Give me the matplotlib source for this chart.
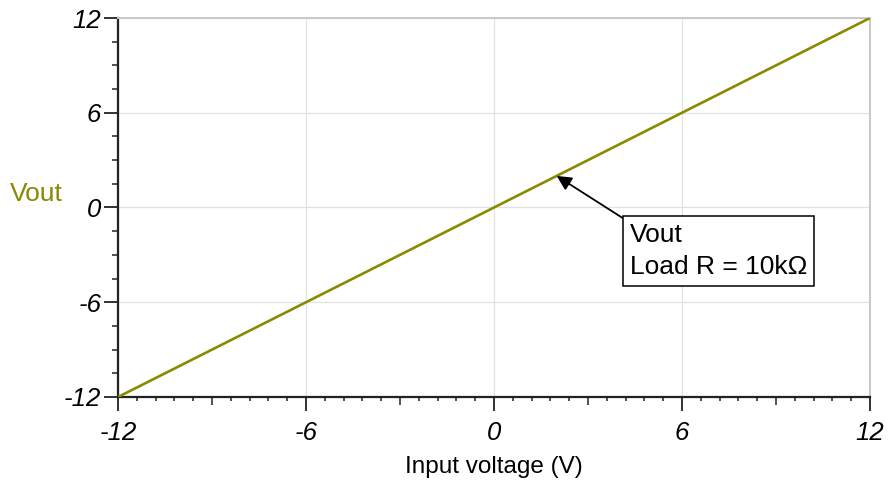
import matplotlib
matplotlib.use("Agg")
import matplotlib.pyplot as plt
from matplotlib.ticker import MultipleLocator, FixedLocator

# data
vin = [-12, 0, 12]
vout = [-12, 0, 12]
xticks = [-12, -6, 0, 6, 12]
yticks = [-12, -6, 0, 6, 12]
tick_labels = ["-12", "-6", "0", "6", "12"]
ann_point = (2, 2)
ann_text = "Vout\nLoad R = 10k\u03a9"

olive = "#8a8a00"
plt.rcParams['font.family'] = ['Liberation Sans', 'DejaVu Sans']

fig = plt.figure(figsize=(8.88, 4.86), dpi=100)
ax = fig.add_axes([118/888, 1-397/486, (870-118)/888, (397-18)/486])

ax.plot(vin, vout, color=olive, lw=1.9, solid_capstyle='butt', zorder=3)

ax.set_xlim(-12, 12)
ax.set_ylim(-12, 12)
ax.xaxis.set_major_locator(FixedLocator(xticks))
ax.yaxis.set_major_locator(FixedLocator(yticks))
ax.xaxis.set_minor_locator(MultipleLocator(0.6))
ax.yaxis.set_minor_locator(MultipleLocator(1.5))
ax.set_xticklabels(tick_labels, fontsize=18.5, style='italic')
ax.set_yticklabels(tick_labels, fontsize=18.5, style='italic')

ax.grid(True, which='major', color='#e2e2e2', lw=0.9, zorder=0)
ax.tick_params(which='major', direction='out', length=10, width=1.3, color='#222222')
ax.tick_params(axis='x', which='major', pad=7)
ax.tick_params(axis='y', which='major', pad=2)
ax.tick_params(axis='x', which='minor', direction='out', length=3.2, width=1.1, color='#222222')
ax.tick_params(axis='y', which='minor', direction='out', length=4.5, width=1.1, color='#222222')

for s in ['left', 'bottom']:
    ax.spines[s].set_color('#222222')
    ax.spines[s].set_linewidth(1.6)
for s in ['top', 'right']:
    ax.spines[s].set_color('#c8c8c8')
    ax.spines[s].set_linewidth(1.4)

fig.canvas.draw()
for t, loc in zip(ax.xaxis.get_minor_ticks(), ax.xaxis.get_minorticklocs()):
    if abs((loc / 3) - round(loc / 3)) < 1e-6 and abs(loc / 6 - round(loc / 6)) > 1e-6:
        t.tick1line.set_markersize(5.5)

fig.text(36/888, 1-194/486, "Vout", color=olive, fontsize=19, ha='center', va='center')
fig.text(494/888, 1-467/486, "Input voltage (V)", fontsize=17.5, ha='center', va='center')

ax.annotate(ann_text, xy=ann_point, xytext=(4.33, -0.95), textcoords='data',
            ha='left', va='top', fontsize=19, linespacing=1.45,
            bbox=dict(boxstyle='square,pad=0.25', fc='white', ec='black', lw=1.1),
            arrowprops=dict(arrowstyle='-|>', color='black', lw=1.3, mutation_scale=22,
                            relpos=(0, 1), shrinkA=0, shrinkB=0),
            zorder=5)

fig.savefig("out.png", dpi=100)
